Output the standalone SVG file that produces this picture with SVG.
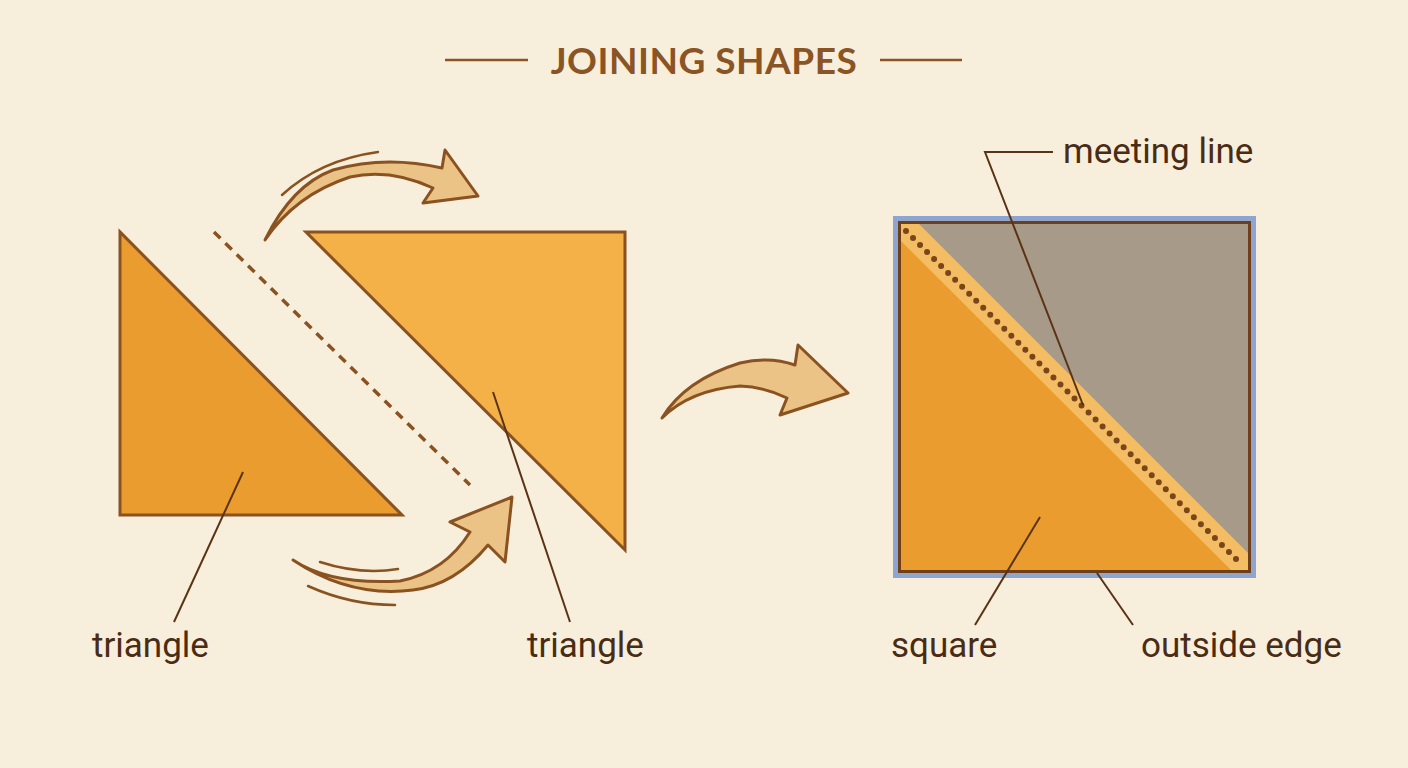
<svg xmlns="http://www.w3.org/2000/svg" width="1408" height="768" viewBox="0 0 1408 768">
<style>
.shape{stroke:#8a5220;stroke-width:3;stroke-linejoin:miter}
.arrow{fill:#ecc386;stroke:#8a5220;stroke-width:3;stroke-linejoin:round}
.motion{fill:none;stroke:#8a5220;stroke-width:2.5;stroke-linecap:round}
.leader{fill:none;stroke:#5a3316;stroke-width:2}
.label{font-family:Roboto,"Liberation Sans",sans-serif;font-size:35px;fill:#4a2b14}
.title{font-family:Lato,"Liberation Sans",sans-serif;font-weight:bold;font-size:37px;fill:#8b5424;letter-spacing:0.5px}
</style>
<defs>
<linearGradient id="ag" x1="0" y1="0" x2="1" y2="0">
<stop offset="0" stop-color="#f2cf98"/>
<stop offset="1" stop-color="#e9bb78"/>
</linearGradient>
</defs>
<rect width="1408" height="768" fill="#f7efdc"/>

<g id="title">
<line x1="445" y1="60" x2="528" y2="60" stroke="#8b5424" stroke-width="2.5"/>
<line x1="880" y1="60" x2="962" y2="60" stroke="#8b5424" stroke-width="2.5"/>
<text class="title" x="704" y="74" text-anchor="middle">JOINING SHAPES</text>
</g>

<g id="triangle-left">
<polygon class="shape" points="120,232 120,515 402,515" fill="#eb9c2e"/>
</g>
<g id="triangle-right">
<polygon class="shape" points="306,232 625,232 625,550" fill="#f3b148"/>
</g>
<g id="fold-line">
<line x1="214" y1="232" x2="470" y2="485" stroke="#8a5220" stroke-width="3.5" stroke-dasharray="9 7"/>
</g>

<g id="square">
<rect x="893" y="216" width="363" height="362" fill="#8ea6cf"/>
<polygon points="899,222 1250,222 1250,572 899,572" fill="#f5bd63"/>
<polygon points="917,222 1250,222 1250,555" fill="#a89a88"/>
<polygon points="899,239 899,572 1233,572" fill="#eb9c2e"/>
<line x1="906" y1="231" x2="1243" y2="566" stroke="#7a4518" stroke-width="6" stroke-linecap="round" stroke-dasharray="0 9.9"/>
<rect x="899.5" y="222.5" width="350" height="349" fill="none" stroke="#6e3f18" stroke-width="3"/>
</g>

<g id="connectors">
<g id="arrow-top">
<path class="motion" d="M282,195 Q320,160 378,152"/>
<path class="arrow" fill="url(#ag)" d="M265,240 Q292,185 333,170 Q385,155 442,168 L445,150 L478,196 L423,203 L433,188 Q390,168 350,177 Q295,195 265,240 Z"/>
</g>
<g id="arrow-bottom">
<path class="motion" d="M320,562 Q360,575 398,569"/>
<path class="motion" d="M308,586 Q350,605 395,605"/>
<path class="arrow" fill="url(#ag)" d="M293,560 Q330,585 400,581 Q445,572 470,532 L450,522 L512,497 L505,562 L488,545 Q455,585 413,590 Q350,598 293,560 Z"/>
</g>
<g id="arrow-middle">
<path class="arrow" fill="url(#ag)" d="M662,418 Q685,380 740,363 Q770,356 795,365 L798,345 L848,393 L780,415 L787,398 Q765,387 740,386 Q690,390 662,418 Z"/>
</g>
<g id="leaders">
<line class="leader" x1="243" y1="472" x2="174" y2="622"/>
<line class="leader" x1="493" y1="392" x2="570" y2="622"/>
<polyline class="leader" points="1053,152 985,152 1083,405"/>
<line class="leader" x1="1040" y1="517" x2="975" y2="625"/>
<line class="leader" x1="1097" y1="573" x2="1133" y2="625"/>
</g>
</g>

<g id="labels">
<text class="label" x="92" y="657">triangle</text>
<text class="label" x="527" y="657">triangle</text>
<text class="label" x="1063" y="163">meeting line</text>
<text class="label" x="891" y="657">square</text>
<text class="label" x="1141" y="657">outside edge</text>
</g>
</svg>
